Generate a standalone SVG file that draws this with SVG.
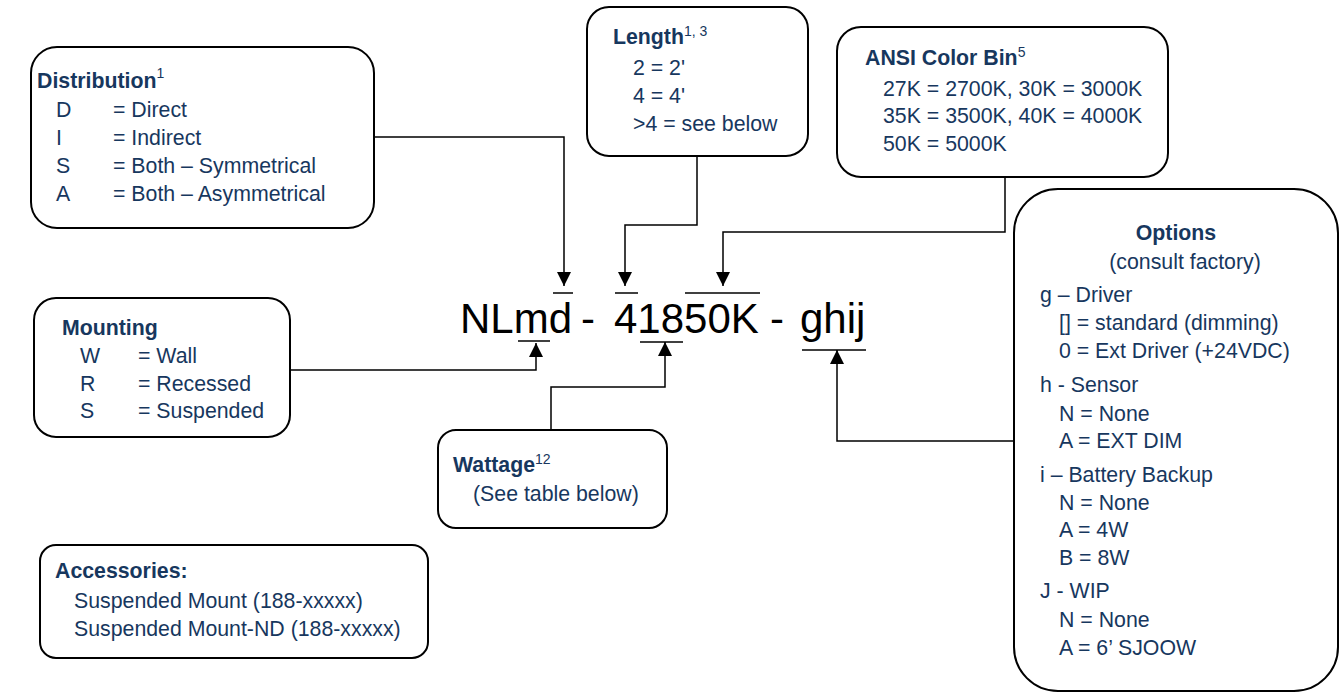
<svg xmlns="http://www.w3.org/2000/svg" width="1340" height="693" viewBox="0 0 1340 693">
<defs>
<marker id="arr" markerUnits="userSpaceOnUse" markerWidth="14" markerHeight="14" refX="14" refY="7" orient="auto" viewBox="0 0 14 14">
<path d="M0,0 L14,7 L0,14 z" fill="#000"/>
</marker>
</defs>
<style>
.box{fill:#fff;stroke:#000;stroke-width:2}
.t{font-family:"Liberation Sans",Arial,sans-serif;font-size:21.3px;fill:#17375e}
.b{font-weight:bold}
.sup{font-size:14px;font-weight:normal}
.big{font-family:"Liberation Sans",Arial,sans-serif;font-size:42px;fill:#000}
.con{fill:none;stroke:#000;stroke-width:1.5;marker-end:url(#arr)}
.bar{stroke:#000;stroke-width:1.5}
</style>
<rect width="1340" height="693" fill="#fff"/>

<g id="connectors">
<path class="con" d="M374,137 H564 V286"/>
<path class="con" d="M697,156 V225 H625 V286"/>
<path class="con" d="M1005,177 V232 H723 V286"/>
<path class="con" d="M290,370 H536 V343"/>
<path class="con" d="M551,430 V387 H665 V342"/>
<path class="con" d="M1014,441 H837 V350"/>
</g>

<g id="code">
<text class="big" x="460" y="333">NLmd</text>
<text class="big" x="581" y="333">-</text>
<text class="big" x="614" y="333">41850K</text>
<text class="big" x="770" y="333">-</text>
<text class="big" x="800" y="333">ghij</text>
<line class="bar" x1="553" y1="293" x2="573" y2="293"/>
<line class="bar" x1="615" y1="293" x2="638" y2="293"/>
<line class="bar" x1="685" y1="293" x2="760" y2="293"/>
<line class="bar" x1="518" y1="341" x2="550" y2="341"/>
<line class="bar" x1="640" y1="342" x2="683" y2="342"/>
<line class="bar" x1="802" y1="350" x2="866" y2="350"/>
</g>

<g id="distribution">
<rect class="box" x="31" y="47" width="343" height="181" rx="26"/>
<text class="t b" x="37" y="88">Distribution<tspan class="sup" dy="-10">1</tspan></text>
<text class="t" x="56" y="117">D</text><text class="t" x="113" y="117">= Direct</text>
<text class="t" x="56" y="145">I</text><text class="t" x="113" y="145">= Indirect</text>
<text class="t" x="56" y="173">S</text><text class="t" x="113" y="173">= Both – Symmetrical</text>
<text class="t" x="56" y="201">A</text><text class="t" x="113" y="201">= Both – Asymmetrical</text>
</g>

<g id="length">
<rect class="box" x="587" y="7" width="221" height="149" rx="22"/>
<text class="t b" x="613" y="44">Length<tspan class="sup" dy="-8">1, 3</tspan></text>
<text class="t" x="633" y="75">2 = 2'</text>
<text class="t" x="633" y="103">4 = 4'</text>
<text class="t" x="633" y="131">&gt;4 = see below</text>
</g>

<g id="ansi">
<rect class="box" x="837" y="27" width="331" height="150" rx="24"/>
<text class="t b" x="865" y="65">ANSI Color Bin<tspan class="sup" dy="-8">5</tspan></text>
<text class="t" x="883" y="96">27K = 2700K, 30K = 3000K</text>
<text class="t" x="883" y="123">35K = 3500K, 40K = 4000K</text>
<text class="t" x="883" y="151">50K = 5000K</text>
</g>

<g id="mounting">
<rect class="box" x="34" y="298" width="256" height="139" rx="22"/>
<text class="t b" x="62" y="335">Mounting</text>
<text class="t" x="80" y="363">W</text><text class="t" x="138" y="363">= Wall</text>
<text class="t" x="80" y="391">R</text><text class="t" x="138" y="391">= Recessed</text>
<text class="t" x="80" y="418">S</text><text class="t" x="138" y="418">= Suspended</text>
</g>

<g id="wattage">
<rect class="box" x="438" y="430" width="229" height="98" rx="18"/>
<text class="t b" x="453" y="472">Wattage<tspan class="sup" dy="-8">12</tspan></text>
<text class="t" x="473" y="501">(See table below)</text>
</g>

<g id="options">
<rect class="box" x="1014" y="189" width="324" height="502" rx="44"/>
<text class="t b" x="1176" y="240" text-anchor="middle">Options</text>
<text class="t" x="1185" y="269" text-anchor="middle">(consult factory)</text>
<text class="t" x="1040" y="302">g – Driver</text>
<text class="t" x="1059" y="330">[] = standard (dimming)</text>
<text class="t" x="1059" y="358">0 = Ext Driver (+24VDC)</text>
<text class="t" x="1040" y="392">h - Sensor</text>
<text class="t" x="1059" y="421">N = None</text>
<text class="t" x="1059" y="448">A = EXT DIM</text>
<text class="t" x="1040" y="482">i – Battery Backup</text>
<text class="t" x="1059" y="510">N = None</text>
<text class="t" x="1059" y="537">A = 4W</text>
<text class="t" x="1059" y="565">B = 8W</text>
<text class="t" x="1040" y="598">J - WIP</text>
<text class="t" x="1059" y="627">N = None</text>
<text class="t" x="1059" y="655">A = 6’ SJOOW</text>
</g>

<g id="accessories">
<rect class="box" x="40" y="545" width="388" height="113" rx="16"/>
<text class="t b" x="55" y="578">Accessories:</text>
<text class="t" x="74" y="608">Suspended Mount (188-xxxxx)</text>
<text class="t" x="74" y="636">Suspended Mount-ND (188-xxxxx)</text>
</g>
</svg>
